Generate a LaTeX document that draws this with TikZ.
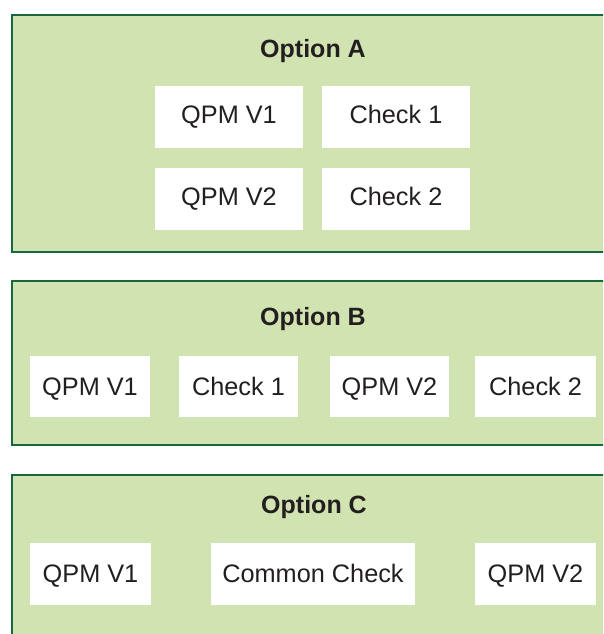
\documentclass[tikz,border=0pt]{standalone}
\usepackage{fontspec}
\setmainfont{Liberation Sans}
\definecolor{panelfill}{HTML}{D1E3B1}
\definecolor{paneledge}{HTML}{17683A}
\definecolor{ink}{HTML}{231F20}
\begin{document}
\begin{tikzpicture}[x=1pt,y=-1pt,
  panel/.style={fill=panelfill,draw=paneledge,line width=2.4pt},
  itembox/.style={fill=white,draw=none,inner sep=0pt,text=ink,
    text height=18.5pt,text depth=0pt,
    font=\fontsize{25.3}{30}\selectfont},
  raisedtext/.style={text depth=5.5pt},
  paneltitle/.style={text=ink,inner sep=0pt,text height=18pt,text depth=0pt,
    font=\fontsize{25}{30}\selectfont\bfseries}]
\useasboundingbox (0,0) rectangle (603,634);
\begin{scope}
\clip (0,0) rectangle (603,634);
% the three option panels
\path[panel] (12,15) rectangle (640,252);
\path[panel] (12,281) rectangle (640,445);
\path[panel] (12,475) rectangle (640,680);
\end{scope}

% Option A
\node[paneltitle] (tA) at (313,48) {Option A};
\node[itembox,raisedtext,minimum width=148pt,minimum height=62pt] (a1) at (229,117) {QPM V1};
\node[itembox,raisedtext,minimum width=148pt,minimum height=62pt] (a2) at (396,117) {Check 1};
\node[itembox,raisedtext,minimum width=148pt,minimum height=62pt] (a3) at (229,199) {QPM V2};
\node[itembox,raisedtext,minimum width=148pt,minimum height=62pt] (a4) at (396,199) {Check 2};

% Option B
\node[paneltitle] (tB) at (313,316) {Option B};
\node[itembox,minimum width=120pt,minimum height=61pt] (b1) at (90,386.5) {QPM V1};
\node[itembox,minimum width=119pt,minimum height=61pt] (b2) at (238.5,386.5) {Check 1};
\node[itembox,minimum width=119pt,minimum height=61pt] (b3) at (389.5,386.5) {QPM V2};
\node[itembox,minimum width=121pt,minimum height=61pt] (b4) at (535.5,386.5) {Check 2};

% Option C
\node[paneltitle] (tC) at (314,504) {Option C};
\node[itembox,text depth=2pt,minimum width=121pt,minimum height=62pt] (c1) at (90.5,574) {QPM V1};
\node[itembox,text depth=2pt,minimum width=204pt,minimum height=62pt] (c2) at (313,574) {Common Check};
\node[itembox,text depth=2pt,minimum width=121pt,minimum height=62pt] (c3) at (535.5,574) {QPM V2};
\end{tikzpicture}
\end{document}
